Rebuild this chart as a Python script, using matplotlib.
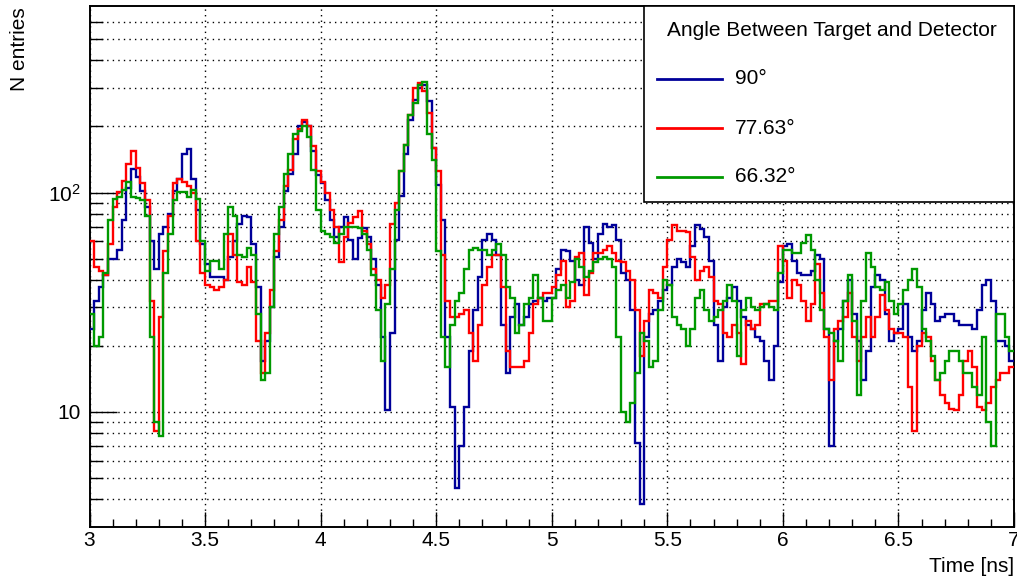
import numpy as np
import matplotlib
matplotlib.use("Agg")
import matplotlib.pyplot as plt
from matplotlib.ticker import FixedLocator, FixedFormatter, NullFormatter, MultipleLocator, FuncFormatter
from matplotlib.patches import Rectangle
from matplotlib.lines import Line2D

plt.rcParams['font.family'] = ['Liberation Sans', 'DejaVu Sans']

# ---------------- data ----------------
bin_edges = np.round(np.arange(3.0, 7.0 + 1e-9, 0.02), 2)

blue_90 = [
    24, 32, 37, 42, 50, 50, 55, 75, 105, 128,
    118, 102, 86, 60, 45, 65, 70, 80, 102, 115,
    150, 158, 115, 83, 58, 47, 41, 41, 41, 40,
    51, 60, 72, 78, 77, 58, 37, 17, 21, 30,
    51, 70, 102, 122, 150, 200, 210, 200, 155, 120,
    110, 92, 75, 63, 70, 77, 61, 50, 62, 69,
    63, 50, 38, 22, 10.2, 23, 61, 96, 150, 215,
    265, 300, 310, 260, 160, 108, 75, 22, 10.5, 4.5,
    7, 10.5, 19, 29, 41, 61, 65, 61, 52, 25,
    15, 27, 31, 25, 27, 31, 32, 33, 32, 33,
    33, 45, 55, 54, 49, 40, 38, 70, 59, 50,
    65, 72, 70, 71, 61, 43, 40, 29, 7.2, 3.8,
    22, 28, 29, 32, 36, 38, 46, 50, 48, 46,
    57, 71, 68, 63, 49, 25, 17, 30, 33, 37,
    32, 27, 25, 24, 22, 21, 17, 14, 20, 39,
    57, 58, 49, 43, 42, 42, 44, 52, 50, 24,
    7, 21, 24, 32, 40, 28, 21, 14, 19, 37,
    42, 40, 28, 21, 23, 24, 31, 22, 19, 21,
    29, 35, 31, 26, 27, 28, 28, 26, 25, 25,
    25, 24, 29, 38, 40, 32, 21, 21, 20, 17,
]

red_77_63 = [
    60, 46, 44, 42, 58, 86, 101, 113, 135, 155,
    130, 110, 92, 32, 8.2, 27, 54, 78, 110, 115,
    112, 107, 99, 60, 43, 38, 37, 36, 37, 40,
    65, 52, 39, 38, 46, 39, 21, 15, 23, 36,
    54, 75, 107, 127, 175, 195, 215, 200, 163, 125,
    112, 100, 83, 70, 48, 63, 73, 77, 82, 67,
    58, 45, 40, 33, 38, 72, 90, 125, 165, 225,
    300, 315, 290, 230, 160, 125, 52, 32, 27, 27,
    28, 29, 23, 17, 25, 38, 46, 52, 52, 37,
    19, 16, 16, 16, 17, 23, 31, 33, 35, 35,
    37, 42, 49, 30, 32, 51, 53, 34, 43, 53,
    53, 55, 57, 53, 49, 48, 44, 40, 29, 18,
    26, 36, 35, 33, 46, 61, 71, 67, 67, 66,
    51, 40, 44, 46, 41, 32, 31, 23, 22, 25,
    23, 16.5, 26, 24, 25, 31, 31, 32, 32, 57,
    49, 33, 40, 38, 32, 26, 31, 47, 35, 22,
    14, 24, 26, 27, 35, 22, 17, 22, 27, 22,
    27, 34, 29, 24, 23, 23, 22, 13, 8.2, 20,
    23, 22, 17, 14, 12, 11, 10.3, 10.2, 12, 17,
    19, 16, 10.5, 10.2, 11, 13, 14, 15, 15, 16,
]

green_66_32 = [
    28, 20, 22, 43, 75, 93, 95, 103, 112, 95,
    94, 92, 78, 22, 9, 7.8, 43, 65, 92, 101,
    101, 95, 103, 93, 60, 44, 49, 49, 45, 65,
    86, 78, 52, 51, 56, 52, 28, 14, 15, 30,
    65, 86, 122, 150, 185, 190, 200, 180, 127, 83,
    67, 65, 63, 59, 65, 70, 70, 70, 69, 65,
    55, 42, 29, 17, 31, 45, 83, 125, 165, 225,
    255, 310, 320, 185, 140, 54, 22, 16, 25, 32,
    35, 45, 55, 56, 55, 55, 52, 55, 58, 52,
    37, 33, 23, 25, 31, 33, 42, 33, 26, 26,
    33, 36, 38, 33, 39, 50, 46, 41, 44, 48,
    50, 51, 50, 46, 22, 10, 9, 11, 15, 23,
    21, 16, 17, 29, 40, 38, 27, 25, 24, 20,
    24, 33, 36, 29, 26, 27, 29, 32, 38, 32,
    18, 29, 33, 30, 29, 30, 31, 30, 29, 43,
    55, 55, 53, 53, 59, 64, 55, 40, 29, 24,
    23, 21, 17, 32, 42, 26, 12, 32, 53, 46,
    37, 36, 39, 32, 28, 31, 36, 40, 45, 37,
    24, 21, 18, 14, 15, 17, 19, 19, 17, 15,
    15, 13, 12, 22, 9, 7, 28, 28, 22, 19,
]

series_labels = ['90°', '77.63°', '66.32°']
legend_title = 'Angle Between Target and Detector'
x_ticks = [3, 3.5, 4, 4.5, 5, 5.5, 6, 6.5, 7]
y_major_ticks = [10, 100]
y_major_labels = ['10', r'$\mathregular{10^{2}}$']
y_minor_ticks = [4, 5, 6, 7, 8, 9, 20, 30, 40, 50, 60, 70, 80, 90,
                 200, 300, 400, 500, 600]

colors = ['#000099', '#ff0000', '#009900']
series = [blue_90, red_77_63, green_66_32]

# ---------------- figure ----------------
W, H = 1017, 578
fig = plt.figure(figsize=(W / 100, H / 100), dpi=100)
ax = fig.add_axes([89.5 / W, 1 - 526.7 / H, (1014 - 89.5) / W, (526.7 - 6) / H])

for vals, c in zip(series, colors):
    ax.stairs(vals, bin_edges, baseline=None, color=c, linewidth=1.7, zorder=3)

ax.set_yscale('log')
ax.set_xlim(3, 7)
ax.set_ylim(3.0, 708)

ax.xaxis.set_major_locator(FixedLocator(x_ticks))
ax.xaxis.set_minor_locator(MultipleLocator(0.1))
ax.xaxis.set_major_formatter(FuncFormatter(lambda v, p: '%g' % v))
ax.yaxis.set_major_locator(FixedLocator(y_major_ticks))
ax.yaxis.set_major_formatter(FixedFormatter(y_major_labels))
ax.yaxis.set_minor_locator(FixedLocator(y_minor_ticks))
ax.yaxis.set_minor_formatter(NullFormatter())

ax.tick_params(axis='x', which='major', direction='in', length=11, width=1.0,
               labelsize=15, pad=3)
ax.tick_params(axis='x', which='minor', direction='in', length=5.5, width=1.0)
ax.tick_params(axis='y', which='major', direction='in', length=19.5, width=1.0,
               labelsize=15, pad=6.5)
ax.tick_params(axis='y', which='minor', direction='in', length=9.5, width=1.0)

for sp in ax.spines.values():
    sp.set_linewidth(1.4)
    sp.set_color('black')

ax.set_axisbelow(True)
dot = (0, (1.0, 3.0))
ax.grid(True, which='major', axis='x', color='black', linestyle=dot, linewidth=1.0)
ax.grid(True, which='both', axis='y', color='black', linestyle=dot, linewidth=1.0)

# axis titles
fig.text(19.5 / W, 1 - 7.5 / H, 'N entries', rotation=90, ha='center', va='top', fontsize=15)
fig.text(1014 / W, 1 - 566 / H, 'Time [ns]', ha='right', va='center', fontsize=15)

# legend box (ROOT style)
lx0, lx1, ly0, ly1 = 643.5, 1014, 6, 201.7
fig.patches.append(Rectangle((lx0 / W, 1 - ly1 / H), (lx1 - lx0) / W, (ly1 - ly0) / H,
                             transform=fig.transFigure, facecolor='white',
                             edgecolor='black', linewidth=1.2, zorder=10))
fig.text(832 / W, 1 - 30 / H, legend_title, ha='center', va='center', fontsize=15, zorder=11)
for lab, c, yy in zip(series_labels, colors, [79, 128, 176.5]):
    fig.lines.append(Line2D([657 / W, 722 / W], [1 - yy / H, 1 - yy / H],
                            transform=fig.transFigure, color=c, linewidth=2.0, zorder=11))
    fig.text(735 / W, 1 - yy / H, lab, ha='left', va='center', fontsize=15, zorder=11)

fig.savefig('out.png', dpi=100)
